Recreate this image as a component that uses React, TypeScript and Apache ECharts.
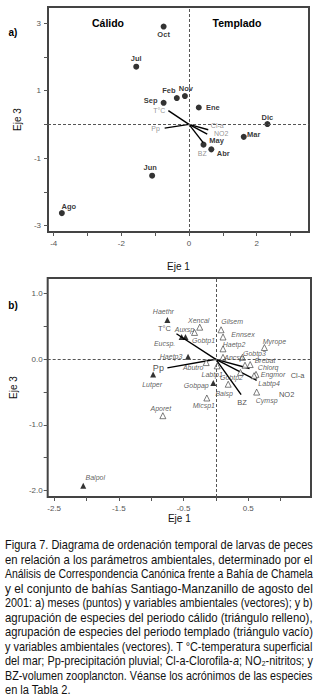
import React, { useEffect, useRef } from 'react';
import * as echarts from 'echarts';

// ---------- Panel a: months ----------
const months = ['Ene', 'Feb', 'Mar', 'Abr', 'May', 'Jun', 'Jul', 'Ago', 'Sep', 'Oct', 'Nov', 'Dic'];
const monthEje1 = [0.29, -0.36, 1.62, 0.66, 0.43, -1.09, -1.56, -3.76, -0.75, -0.75, -0.12, 2.32];
const monthEje3 = [0.50, 0.78, -0.37, -0.74, -0.60, -1.52, 1.71, -2.63, 0.64, 2.90, 0.84, 0.01];

// ---------- Environmental vectors ----------
const envVars = ['T°C', 'Pp', 'Cl-a', 'NO2', 'BZ'];
const envEje1A = [-0.61, -0.72, 0.57, 0.54, 0.42];
const envEje3A = [0.41, -0.11, -0.16, -0.29, -0.54];
const envEje1B = [-0.61, -0.75, 0.52, 0.63, 0.39];
const envEje3B = [0.39, -0.13, -0.14, -0.32, -0.54];

// ---------- Panel b: species ----------
const warmSpecies = ['Haethr', 'Eucsp.', 'Auxsp', 'Haetp3', 'Lutper', 'Gobpap', 'Balpol'];
const warmEje1 = [-0.75, -0.53, -0.47, -0.43, -0.97, -0.04, -2.05];
const warmEje3 = [0.60, 0.34, 0.34, 0.04, -0.23, -0.36, -1.93];

const coolSpecies = ['Xencal', 'Gobtp1', 'Gilsem', 'Ennsex', 'Haetp2', 'Ancsp', 'Abutro', 'Labtp1', 'Myrope',
  'Gobtp3', 'Brebat', 'Chlorq', 'Engmor', 'Labtp4', 'Gobtp2', 'Baisp', 'Cymsp', 'Micsp1', 'Aporet'];
const coolEje1 = [-0.25, -0.33, 0.08, 0.11, 0.11, 0.11, -0.15, 0.02, 0.75,
  0.41, 0.45, 0.53, 0.62, 0.59, 0.38, 0.19, 0.63, -0.14, -0.82];
const coolEje3 = [0.49, 0.41, 0.45, 0.34, 0.16, 0.03, -0.05, -0.10, 0.18,
  0.03, -0.09, -0.08, -0.23, -0.25, -0.20, -0.38, -0.50, -0.59, -0.86];

// ---------- Tick values ----------
const aXTicks = [-4, -3, -2, -1, 0, 1, 2, 3];
const aXLabels = [-4, -2, 0, 2];
const aYTicks = [-3, -2, -1, 0, 1, 2, 3];
const aYLabels = [-3, -1, 1, 3];
const bXTicks = [-2.5, -2, -1.5, -1, -0.5, 0, 0.5, 1];
const bXLabels = [-2.5, -1.5, -0.5, 0.5];
const bYTicks = [-2, -1.5, -1, -0.5, 0, 0.5, 1];
const bYLabels = [-2, -1, 0, 1];

// ---------- Caption ----------
const captionLines = [
  'Figura 7. Diagrama de ordenación temporal de larvas de peces',
  'en relación a los parámetros ambientales, determinado por el',
  'Análisis de Correspondencia Canónica frente a Bahía de Chamela',
  'y el conjunto de bahías Santiago-Manzanillo de agosto del',
  '2001: a) meses (puntos) y variables ambientales (vectores); y b)',
  'agrupación de especies del periodo cálido (triángulo relleno),',
  'agrupación de especies del periodo templado (triángulo vacío)',
  'y variables ambientales (vectores). T °C-temperatura superficial',
  'del mar; Pp-precipitación pluvial; Cl-a-Clorofila-{i|a}; NO₂-nitritos; y',
  'BZ-volumen zooplancton. Véanse los acrónimos de las especies',
  'en la Tabla 2.',
];

// ---------- Label offsets (styling) ----------
const monthOffset: Record<string, number[]> = {
  Ene: [14, 0], Feb: [-8, -8], Mar: [10, -2], Abr: [12, 4], May: [13, -4], Jun: [-2, -8],
  Jul: [0, -8], Ago: [7, -7], Sep: [-13, -2], Oct: [0, 8], Nov: [1, -8], Dic: [0, -7],
};
const envOffsetA: Record<string, number[]> = {
  'T°C': [-9, 0], Pp: [-9, 0], 'Cl-a': [9, -4], NO2: [14, -1], BZ: [-1, 11],
};
const envOffsetB: Record<string, number[]> = {
  'T°C': [-12, -5], Pp: [-9, 0], 'Cl-a': [48, 7], NO2: [30, 14], BZ: [1, 8],
};
const speciesOffset: Record<string, number[]> = {
  Haethr: [-4, -8], 'Eucsp.': [-17, 6], Auxsp: [-1, -8], Haetp3: [-17, 0], Lutper: [-1, 10],
  Gobpap: [-17, 3], Balpol: [12, -8],
  Xencal: [-1, -7], Gobtp1: [9, 8], Gilsem: [11, -8], Ennsex: [20, -3], Haetp2: [11, -4],
  Ancsp: [11, 0], Abutro: [-13, 5], Labtp1: [-5, 9], Myrope: [10, -6], Gobtp3: [12, -4],
  Brebat: [20, -5], Chlorq: [18, 3], Engmor: [17, 0], Labtp4: [15, 8], Gobtp2: [-9, 5],
  Baisp: [-4, 9], Cymsp: [10, 8], Micsp1: [-3, 8], Aporet: [-2, -7],
};

const FONT = '"Liberation Sans", Arial, Helvetica, sans-serif';

function pointSeries(names: string[], xs: number[], ys: number[], offsets: Record<string, number[]>,
  gi: number, extra: any, labelStyle: any) {
  return {
    type: 'scatter',
    xAxisIndex: gi,
    yAxisIndex: gi,
    silent: true,
    ...extra,
    data: names.map((n, i) => ({
      name: n,
      value: [xs[i], ys[i]],
      label: { offset: offsets[n] || [0, 0] },
    })),
    label: {
      show: true,
      position: 'inside',
      formatter: '{b}',
      fontFamily: FONT,
      textBorderWidth: 0,
      textBorderColor: 'transparent',
      ...labelStyle,
    },
  };
}

function vectorSeries(xs: number[], ys: number[], gi: number) {
  return envVars.map((v, i) => ({
    type: 'line',
    xAxisIndex: gi,
    yAxisIndex: gi,
    silent: true,
    showSymbol: false,
    symbol: 'none',
    z: 3,
    lineStyle: { color: '#000', width: 1.4 },
    data: [[0, 0], [xs[i], ys[i]]],
  }));
}

function makeXAxis(gi: number, min: number, max: number, ticks: number[], labels: number[], nameGap: number, fmt: any) {
  return {
    gridIndex: gi, type: 'value', min, max,
    axisLine: { show: false, onZero: false },
    axisTick: { show: true, customValues: ticks, length: 4, lineStyle: { color: '#555', width: 1 } },
    axisLabel: { customValues: labels, fontSize: 8, color: '#555', margin: 7, fontFamily: FONT, formatter: fmt },
    splitLine: { show: false },
    name: 'Eje 1', nameLocation: 'middle', nameGap,
    nameTextStyle: { fontSize: 10, color: '#111', fontFamily: FONT },
  };
}

function makeYAxis(gi: number, min: number, max: number, ticks: number[], labels: number[], nameGap: number, margin: number, fmt: any) {
  return {
    gridIndex: gi, type: 'value', min, max,
    axisLine: { show: false, onZero: false },
    axisTick: { show: true, customValues: ticks, length: 4, lineStyle: { color: '#555', width: 1 } },
    axisLabel: { customValues: labels, fontSize: 8, color: '#555', margin, fontFamily: FONT, formatter: fmt },
    splitLine: { show: false },
    name: 'Eje 3', nameLocation: 'middle', nameGap, nameRotate: 90,
    nameTextStyle: { fontSize: 10, color: '#111', fontFamily: FONT },
  };
}

const zeroLines = {
  silent: true,
  symbol: ['none', 'none'],
  label: { show: false },
  lineStyle: { type: [3, 2], color: '#555', width: 1 },
  data: [{ xAxis: 0 }, { yAxis: 0 }],
};

export default function App() {
  const ref = useRef<HTMLDivElement>(null);

  useEffect(() => {
    if (!ref.current) return;
    const chart = echarts.init(ref.current, null, { renderer: 'svg' });

    // caption layout: each line fitted to the text block width
    const canvas = document.createElement('canvas');
    const ctx = canvas.getContext('2d')!;
    ctx.font = '12px "Liberation Sans"';
    const blockW = 308;
    const scales = captionLines.map((l) => blockW / ctx.measureText(l.replace('{i|a}', 'a')).width);
    const avgScale = scales.slice(0, -1).reduce((a, b) => a + b, 0) / (scales.length - 1);
    const captionGraphics = captionLines.map((l, i) => ({
      type: 'text',
      x: 5,
      y: 545 + 14.5 * i,
      scaleX: i === captionLines.length - 1 ? avgScale : scales[i],
      style: {
        text: l,
        x: 0,
        y: 0,
        fill: '#111',
        font: '12px "Liberation Sans", Arial, sans-serif',
        align: 'left',
        verticalAlign: 'middle',
        rich: { i: { fontStyle: 'italic', fontSize: 12, fontFamily: '"Liberation Sans", Arial, sans-serif' } },
      },
    }));

    const boldText = (text: string, x: number, y: number, size: number) => ({
      type: 'text', x, y,
      style: { text, fill: '#000', font: `bold ${size}px "Liberation Sans", Arial, sans-serif`, align: 'center', verticalAlign: 'middle' },
    });

    const fmt1 = (v: number) => v.toFixed(1);
    const fmt0 = (v: number) => String(v);

    const option: any = {
      animation: false,
      backgroundColor: '#fff',
      textStyle: { fontFamily: FONT },
      grid: [
        { left: 48, top: 7, width: 261, height: 225, show: true, borderColor: '#444', borderWidth: 2, backgroundColor: 'transparent' },
        { left: 45, top: 278, width: 266, height: 219, show: true, borderColor: '#444', borderWidth: 2, backgroundColor: 'transparent' },
      ],
      xAxis: [
        makeXAxis(0, -4.17, 3.55, aXTicks, aXLabels, 29, fmt0),
        makeXAxis(1, -2.6, 1.47, bXTicks, bXLabels, 16, fmt1),
      ],
      yAxis: [
        makeYAxis(0, -3.19, 3.48, aYTicks, aYLabels, 16, 7, fmt0),
        makeYAxis(1, -2.1, 1.24, bYTicks, bYLabels, 22, 5, fmt1),
      ],
      graphic: [
        boldText('Cálido', 108, 23, 10.5),
        boldText('Templado', 237, 23, 10.5),
        boldText('a)', 13, 32, 10),
        boldText('b)', 13, 305, 10),
        ...captionGraphics,
      ],
      series: [
        // panel a
        {
          ...pointSeries(months, monthEje1, monthEje3, monthOffset, 0,
            { symbol: 'circle', symbolSize: 6, itemStyle: { color: '#000' }, z: 4 },
            { fontSize: 7.5, fontWeight: 'bold', color: '#000' }),
          markLine: zeroLines,
        },
        ...vectorSeries(envEje1A, envEje3A, 0),
        pointSeries(envVars, envEje1A, envEje3A, envOffsetA, 0,
          { symbol: 'circle', symbolSize: 1, itemStyle: { color: 'rgba(0,0,0,0)' }, z: 5 },
          { fontSize: 7, color: '#777' }),
        // panel b
        {
          ...pointSeries(warmSpecies, warmEje1, warmEje3, speciesOffset, 1,
            { symbol: 'triangle', symbolSize: 6, itemStyle: { color: '#000' }, z: 4 },
            { fontSize: 7, fontStyle: 'italic', color: '#333' }),
          markLine: zeroLines,
        },
        pointSeries(coolSpecies, coolEje1, coolEje3, speciesOffset, 1,
          { symbol: 'triangle', symbolSize: 6, itemStyle: { color: '#fff', borderColor: '#333', borderWidth: 0.8 }, z: 4 },
          { fontSize: 7, fontStyle: 'italic', color: '#333' }),
        ...vectorSeries(envEje1B, envEje3B, 1),
        {
          ...pointSeries(envVars, envEje1B, envEje3B, envOffsetB, 1,
            { symbol: 'circle', symbolSize: 1, itemStyle: { color: 'rgba(0,0,0,0)' }, z: 5 },
            { fontSize: 7.5, color: '#222' }),
          data: envVars.map((n, i) => ({
            name: n,
            value: [envEje1B[i], envEje3B[i]],
            label: { offset: envOffsetB[n], fontSize: n === 'Pp' ? 9 : 7.5 },
          })),
        },
      ],
    };

    chart.setOption(option);
    return () => chart.dispose();
  }, []);

  return <div ref={ref} style={{ position: 'absolute', left: 0, top: 0, width: 318, height: 696 }} />;
}
